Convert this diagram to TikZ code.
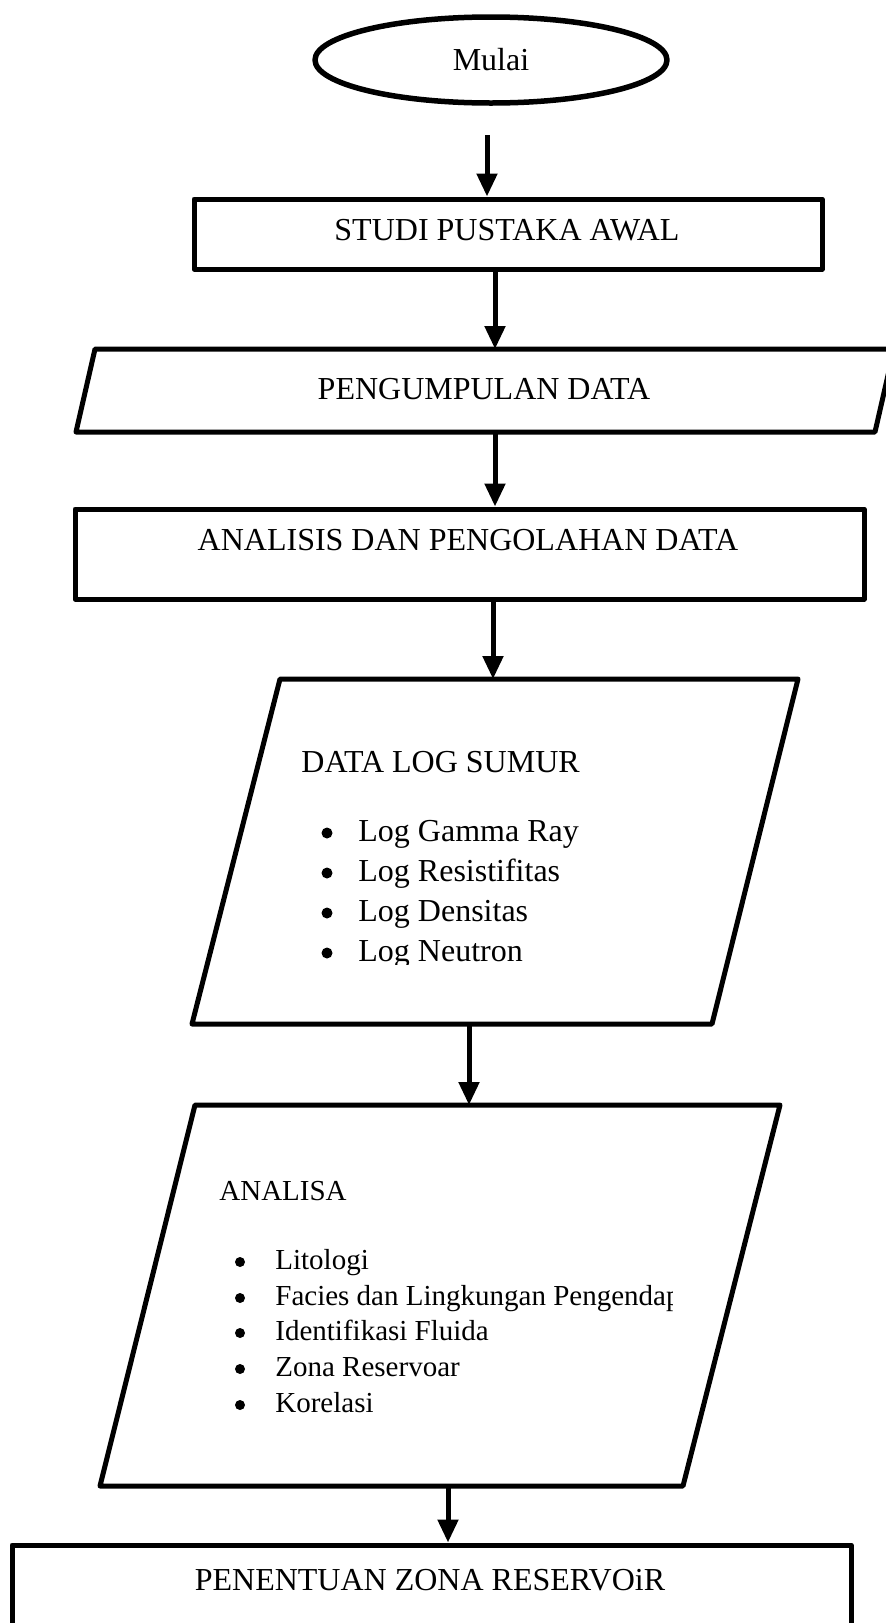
\documentclass[tikz,border=0pt]{standalone}
\usepackage{fontspec}
\setmainfont{Liberation Serif}
\usetikzlibrary{arrows.meta,shapes.geometric}
\begin{document}
\begin{tikzpicture}[x=0.5pt,y=-0.5pt,
  shapeline/.style={draw, line width=2.5pt, line join=round},
  arr/.style={line width=2.5pt, -{Triangle[length=11.5pt,width=10pt]}},
  big/.style={font=\fontsize{16}{19}\selectfont, inner sep=0pt},
  small/.style={font=\fontsize{14.5}{17}\selectfont, inner sep=0pt},
  bigdot/.style={circle, fill, inner sep=0pt, minimum size=5.5pt},
  smalldot/.style={circle, fill, inner sep=0pt, minimum size=5pt}]
\clip (0,0) rectangle (886,1623);
\fill[white] (0,0) rectangle (886,1623);

% start
\node[ellipse, shapeline, line width=2.75pt, minimum width=176pt, minimum height=43pt, inner sep=0pt] (start) at (491,60) {};
\node[big] (tstart) at (491,60) {Mulai};

% box 1
\node[rectangle, shapeline, minimum width=314pt, minimum height=35pt, inner sep=0pt] (b1) at (508,234) {};
\node[big] (t1) at (507,230) {STUDI PUSTAKA AWAL};

% parallelogram 1
\coordinate (p1tl) at (95,349);
\coordinate (p1tr) at (894,349);
\coordinate (p1br) at (875,432);
\coordinate (p1bl) at (76,432);
\draw[shapeline] (p1tl) -- (p1tr) -- (p1br) -- (p1bl) -- cycle;
\node[big] (t2) at (484,389) {PENGUMPULAN DATA};

% box 3
\node[rectangle, shapeline, minimum width=394.5pt, minimum height=45pt, inner sep=0pt] (b3) at (469.5,554) {};
\node[big] (t3) at (468,540) {ANALISIS DAN PENGOLAHAN DATA};

% parallelogram 2
\coordinate (p2tl) at (280,679);
\coordinate (p2tr) at (798,679);
\coordinate (p2br) at (712,1024);
\coordinate (p2bl) at (192,1024);
\draw[shapeline] (p2tl) -- (p2tr) -- (p2br) -- (p2bl) -- cycle;
\node[big, anchor=base west] (t4) at (301,772) {DATA LOG SUMUR};
\node[bigdot] (d1) at (327,833) {};
\node[bigdot] (d2) at (327,873) {};
\node[bigdot] (d3) at (327,913) {};
\node[bigdot] (d4) at (327,953) {};
\node[big, anchor=base west] (i1) at (358,841) {Log Gamma Ray};
\node[big, anchor=base west] (i2) at (358,881) {Log Resistifitas};
\node[big, anchor=base west] (i3) at (358,921) {Log Densitas};
\begin{scope}
\clip (300,900) rectangle (700,964);
\node[big, anchor=base west] (i4) at (358,961) {Log Neutron};
\end{scope}

% parallelogram 3
\coordinate (p3tl) at (195,1105);
\coordinate (p3tr) at (780,1105);
\coordinate (p3br) at (683,1486);
\coordinate (p3bl) at (100,1486);
\draw[shapeline] (p3tl) -- (p3tr) -- (p3br) -- (p3bl) -- cycle;
\node[small, anchor=base west] (t5) at (219,1200) {ANALISA};
\node[smalldot] (e1) at (240,1262) {};
\node[smalldot] (e2) at (240,1298) {};
\node[smalldot] (e3) at (240,1333) {};
\node[smalldot] (e4) at (240,1369) {};
\node[smalldot] (e5) at (240,1405) {};
\node[small, anchor=base west] (j1) at (275,1269) {Litologi};
\begin{scope}
\clip (260,1270) rectangle (672,1330);
\node[small, anchor=base west] (j2) at (275,1305) {Facies dan Lingkungan Pengendap};
\end{scope}
\node[small, anchor=base west] (j3) at (275,1340) {Identifikasi Fluida};
\node[small, anchor=base west] (j4) at (275,1376) {Zona Reservoar};
\node[small, anchor=base west] (j5) at (275,1412) {Korelasi};

% box 4
\node[rectangle, shapeline, minimum width=419.5pt, minimum height=67.5pt, inner sep=0pt] (b4) at (431.5,1612.5) {};
\node[big] (t6) at (430,1580) {PENENTUAN ZONA RESERVOiR};

% connectors
\coordinate (a1s) at (487,135);
\draw[arr] (a1s) -- (b1.north -| a1s);
\coordinate (a2x) at (495,349);
\draw[arr] (b1.south -| a2x) -- (a2x);
\coordinate (a3s) at (495,432);
\draw[arr] (a3s) -- (b3.north -| a3s);
\coordinate (a4e) at (493,679);
\draw[arr] (b3.south -| a4e) -- (a4e);
\coordinate (a5s) at (469,1024);
\coordinate (a5e) at (469,1105);
\draw[arr] (a5s) -- (a5e);
\coordinate (a6s) at (448,1486);
\draw[arr] (a6s) -- (b4.north -| a6s);
\end{tikzpicture}
\end{document}
